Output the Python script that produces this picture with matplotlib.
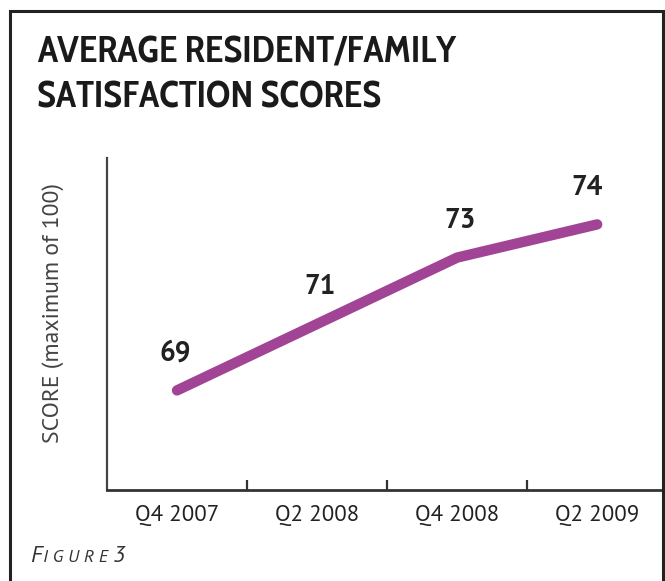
import matplotlib.pyplot as plt
from matplotlib.patches import Rectangle

quarters = ["Q4 2007", "Q2 2008", "Q4 2008", "Q2 2009"]
scores = [69, 71, 73, 74]

W, H = 665, 581
fig = plt.figure(figsize=(W / 100, H / 100), dpi=100)

def px(x, y):
    return x / W, 1 - y / H

# outer frame
fig.patches.append(Rectangle((10 / W, -0.05), 653 / W, 1.05 - 11 / H,
                             transform=fig.transFigure, fill=False,
                             edgecolor="#222222", linewidth=2.2))

ax = fig.add_axes([107 / W, (H - 490) / H, (663 - 107) / W, (490 - 158) / H])
x = list(range(len(quarters)))
ax.plot(x, scores, color="#A24495", linewidth=7.5, solid_capstyle="round",
        solid_joinstyle="round")
for xi, s, dx in zip(x, scores, [-0.01, 0.02, 0.02, -0.07]):
    ax.annotate(str(s), (xi + dx, s), xytext=(0, 17), textcoords="offset points",
                ha="center", va="bottom", fontsize=20, fontweight="bold",
                family="PT Sans", color="#222222")

ax.set_xlim(-0.5, 3.47)
ax.set_ylim(66, 76)
for side in ["top", "right"]:
    ax.spines[side].set_visible(False)
ax.spines["left"].set_color("#444444")
ax.spines["bottom"].set_color("#333333")
ax.spines["left"].set_linewidth(1.6)
ax.spines["bottom"].set_linewidth(2)
ax.set_yticks([])
ax.set_xticks(x)
ax.set_xticklabels(quarters, family="PT Sans", fontsize=16.5, color="#222222")
ax.set_xticks([0.5, 1.5, 2.5], minor=True)
ax.tick_params(axis="x", which="major", length=0, pad=11)
ax.tick_params(axis="x", which="minor", direction="in", length=7, width=1.6,
               color="#333333")
ax.set_ylabel("SCORE (maximum of 100)", family="PT Sans", fontsize=17,
              color="#444444", va="center")
ax.yaxis.set_label_coords(-0.097, 0.533)

fig.text(*px(37, 63), "AVERAGE RESIDENT/FAMILY", fontsize=27, fontweight="bold",
         family="Cabin Condensed", color="#1a1a1a", va="baseline")
fig.text(*px(37, 107), "SATISFACTION SCORES", fontsize=27, fontweight="bold",
         family="Cabin Condensed", color="#1a1a1a", va="baseline")

fig.text(*px(30, 562), "F", fontsize=17, style="italic", family="PT Sans",
         color="#333333", va="baseline")
fig.text(*px(43, 562), "I G U R E", fontsize=13, style="italic", family="PT Sans",
         color="#333333", va="baseline")
fig.text(*px(113, 562), "3", fontsize=17, style="italic", family="PT Sans",
         color="#333333", va="baseline")

fig.savefig("out.png", dpi=100)
